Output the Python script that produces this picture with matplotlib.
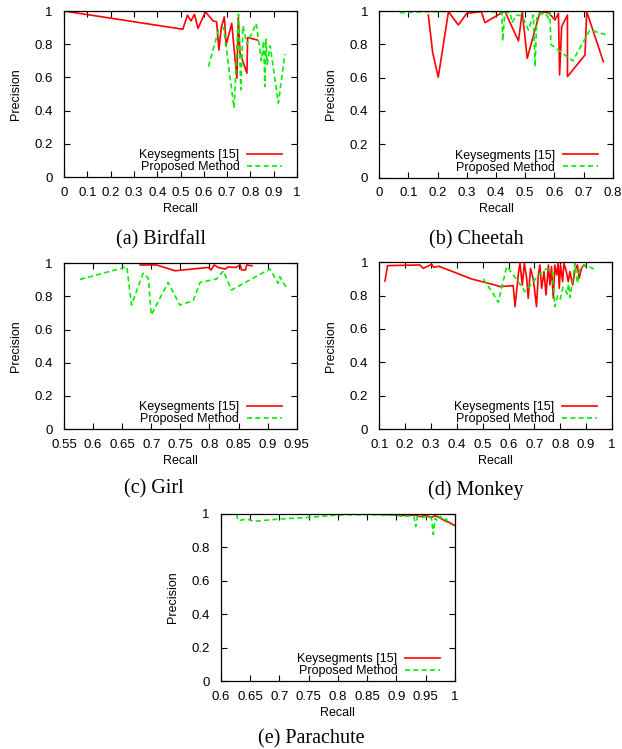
import matplotlib
matplotlib.use("Agg")
import matplotlib.pyplot as plt

plt.rcParams['font.family'] = ['Liberation Sans', 'DejaVu Sans']

LABEL_KEY = "Keysegments [15]"
LABEL_OURS = "Proposed Method"

# (a) Birdfall
birdfall_key_recall = [0.0, 0.51, 0.53, 0.545, 0.56, 0.575, 0.607, 0.64, 0.655, 0.665, 0.675,
                       0.688, 0.696, 0.72, 0.742, 0.748, 0.755, 0.785, 0.788, 0.83]
birdfall_key_prec = [1.0, 0.89, 0.975, 0.94, 0.98, 0.895, 0.995, 0.94, 0.935, 0.765, 0.90,
                     0.965, 0.795, 0.925, 0.595, 0.96, 0.75, 0.625, 0.84, 0.825]
birdfall_ours_recall = [0.62, 0.663, 0.685, 0.73, 0.749, 0.759, 0.768, 0.785, 0.825, 0.847,
                        0.857, 0.862, 0.867, 0.872, 0.885, 0.92, 0.948]
birdfall_ours_prec = [0.665, 0.885, 0.90, 0.415, 0.98, 0.525, 0.91, 0.80, 0.925, 0.70,
                      0.82, 0.545, 0.83, 0.68, 0.79, 0.445, 0.74]

# (b) Cheetah
cheetah_key_recall = [0.168, 0.183, 0.202, 0.237, 0.271, 0.30, 0.35, 0.362, 0.397, 0.43, 0.477,
                      0.49, 0.507, 0.551, 0.58, 0.602, 0.614, 0.618, 0.625, 0.645, 0.645,
                      0.705, 0.711, 0.768]
cheetah_key_prec = [0.976, 0.75, 0.602, 0.996, 0.916, 0.986, 0.996, 0.93, 0.966, 1.0, 0.82,
                    0.996, 0.716, 0.996, 0.99, 0.946, 0.986, 0.616, 0.906, 0.976, 0.606,
                    0.736, 0.996, 0.696]
cheetah_ours_recall = [0.07, 0.15, 0.25, 0.35, 0.40, 0.42, 0.423, 0.43, 0.448, 0.455, 0.471,
                       0.49, 0.511, 0.528, 0.534, 0.54, 0.568, 0.58, 0.585, 0.588, 0.663,
                       0.722, 0.78]
cheetah_ours_prec = [0.99, 0.995, 0.998, 0.998, 0.995, 0.99, 0.82, 0.985, 0.996, 0.93, 0.976,
                     0.97, 0.886, 0.976, 0.666, 0.97, 0.99, 0.956, 0.99, 0.80, 0.70,
                     0.886, 0.856]

# (c) Girl
girl_key_recall = [0.681, 0.709, 0.741, 0.798, 0.803, 0.808, 0.815, 0.827, 0.832, 0.845,
                   0.853, 0.855, 0.862, 0.864, 0.873]
girl_key_prec = [0.99, 0.99, 0.955, 0.975, 0.96, 0.99, 0.975, 0.965, 0.978, 0.975,
                 0.99, 0.96, 0.96, 0.99, 0.985]
girl_ours_recall = [0.5775, 0.652, 0.658, 0.666, 0.686, 0.695, 0.70, 0.729, 0.749, 0.772,
                    0.784, 0.812, 0.824, 0.838, 0.904, 0.918, 0.921, 0.932]
girl_ours_prec = [0.903, 0.973, 0.98, 0.748, 0.94, 0.91, 0.688, 0.885, 0.748, 0.774,
                  0.885, 0.905, 0.954, 0.839, 0.966, 0.879, 0.919, 0.855]

# (d) Monkey
monkey_key_recall = [0.122, 0.132, 0.257, 0.27, 0.303, 0.31, 0.331, 0.457, 0.547, 0.567,
                     0.618, 0.625, 0.638, 0.644, 0.653, 0.661, 0.67, 0.676, 0.685, 0.696,
                     0.708, 0.715, 0.721, 0.728, 0.737, 0.745, 0.754, 0.76, 0.766, 0.773,
                     0.779, 0.786, 0.792, 0.796, 0.801, 0.809, 0.814, 0.822, 0.831, 0.837,
                     0.848, 0.857, 0.866, 0.873, 0.882, 0.891, 0.90]
monkey_key_prec = [0.888, 0.98, 0.984, 0.964, 0.988, 0.97, 0.976, 0.90, 0.864, 0.854,
                   0.86, 0.734, 0.934, 0.994, 0.864, 0.994, 0.904, 0.784, 0.964, 0.894,
                   0.734, 0.924, 0.984, 0.844, 0.944, 0.804, 0.984, 0.864, 0.974, 0.784,
                   0.984, 0.924, 0.994, 0.844, 0.984, 0.884, 0.994, 0.954, 0.884, 0.944,
                   0.864, 0.954, 0.984, 0.904, 0.964, 0.984, 0.974]
monkey_ours_recall = [0.502, 0.541, 0.56, 0.593, 0.63, 0.663, 0.696, 0.72, 0.745, 0.77,
                      0.779, 0.79, 0.80, 0.81, 0.818, 0.827, 0.832, 0.838, 0.857, 0.866,
                      0.876, 0.895, 0.94]
monkey_ours_prec = [0.90, 0.81, 0.76, 0.975, 0.90, 0.824, 0.884, 0.93, 0.96, 0.94,
                    0.734, 0.80, 0.78, 0.85, 0.84, 0.81, 0.87, 0.79, 0.994, 0.874,
                    0.964, 0.984, 0.954]

# (e) Parachute
parachute_key_recall = [0.75, 0.85, 0.9, 0.92, 0.93, 0.94, 0.95, 0.96, 0.965, 0.97, 0.975,
                        0.98, 0.985, 0.99, 0.995, 1.0]
parachute_key_prec = [1.0, 1.0, 0.995, 0.99, 0.995, 0.985, 0.99, 0.98, 0.99, 0.985, 0.975,
                      0.965, 0.955, 0.95, 0.94, 0.93]
parachute_ours_recall = [0.627, 0.63, 0.645, 0.656, 0.70, 0.752, 0.80, 0.85, 0.9, 0.91, 0.92,
                         0.93, 0.933, 0.936, 0.945, 0.955, 0.96, 0.963, 0.966, 0.97, 0.975,
                         0.98, 0.985, 0.99, 0.994]
parachute_ours_prec = [1.0, 0.96, 0.97, 0.956, 0.97, 0.98, 0.995, 0.997, 0.993, 0.985, 0.99,
                       0.985, 0.925, 0.985, 0.98, 0.99, 0.97, 0.878, 0.975, 0.96, 0.985,
                       0.96, 0.97, 0.945, 0.935]

panels = [
    dict(key=(birdfall_key_recall, birdfall_key_prec), ours=(birdfall_ours_recall, birdfall_ours_prec),
         xlim=(0, 1), xticks=[0, 0.1, 0.2, 0.3, 0.4, 0.5, 0.6, 0.7, 0.8, 0.9, 1],
         rect=[64, 11, 297, 177], caption="(a) Birdfall", cap=(161.5, 240)),
    dict(key=(cheetah_key_recall, cheetah_key_prec), ours=(cheetah_ours_recall, cheetah_ours_prec),
         xlim=(0, 0.8), xticks=[0, 0.1, 0.2, 0.3, 0.4, 0.5, 0.6, 0.7, 0.8],
         rect=[379.3, 11, 612.7, 177.5], caption="(b) Cheetah", cap=(476, 240)),
    dict(key=(girl_key_recall, girl_key_prec), ours=(girl_ours_recall, girl_ours_prec),
         xlim=(0.55, 0.95), xticks=[0.55, 0.6, 0.65, 0.7, 0.75, 0.8, 0.85, 0.9, 0.95],
         rect=[64, 263.3, 296.7, 429], caption="(c) Girl", cap=(154, 489)),
    dict(key=(monkey_key_recall, monkey_key_prec), ours=(monkey_ours_recall, monkey_ours_prec),
         xlim=(0.1, 1), xticks=[0.1, 0.2, 0.3, 0.4, 0.5, 0.6, 0.7, 0.8, 0.9, 1],
         rect=[379.3, 262.3, 612, 429], caption="(d) Monkey", cap=(476, 490)),
    dict(key=(parachute_key_recall, parachute_key_prec), ours=(parachute_ours_recall, parachute_ours_prec),
         xlim=(0.6, 1), xticks=[0.6, 0.65, 0.7, 0.75, 0.8, 0.85, 0.9, 0.95, 1],
         rect=[220.7, 514, 455, 681], caption="(e) Parachute", cap=(311.5, 739)),
]

W, H = 622, 749
fig = plt.figure(figsize=(W / 100, H / 100), dpi=100)


def fmt(v):
    return ("%.2f" % v).rstrip("0").rstrip(".")


for p in panels:
    x0, y0, x1, y1 = p["rect"]
    ax_w, ax_h = x1 - x0, y1 - y0
    ax = fig.add_axes([x0 / W, 1 - y1 / H, ax_w / W, ax_h / H])
    ax.plot(*p["key"], color="#ff0000", lw=1.2, label=LABEL_KEY)
    ax.plot(*p["ours"], color="#00ee00", lw=1.2, ls=(0, (3, 2)), label=LABEL_OURS)
    ax.set_xlim(*p["xlim"])
    ax.set_ylim(0, 1)
    ax.set_xticks(p["xticks"])
    ax.set_xticklabels([fmt(v) for v in p["xticks"]])
    yt = [0, 0.2, 0.4, 0.6, 0.8, 1]
    ax.set_yticks(yt)
    ax.set_yticklabels([fmt(v) for v in yt])
    ax.tick_params(direction="in", top=True, right=True, length=4, width=0.8,
                   labelsize=9.5, colors="black")
    ax.tick_params(axis="x", pad=7)
    ax.tick_params(axis="y", pad=8)
    for s in ax.spines.values():
        s.set_linewidth(0.9)
    ax.set_xlabel("Recall", fontsize=9, labelpad=3)
    ax.set_ylabel("Precision", fontsize=9, labelpad=9)
    ax.legend(loc="lower right", markerfirst=False, frameon=False, fontsize=9,
              handlelength=2.8, handletextpad=0.6, labelspacing=0.0,
              borderaxespad=0.0, borderpad=0.0,
              bbox_to_anchor=(1 - 15 / ax_w, 4 / ax_h))
    cx, cy = p["cap"]
    fig.text(cx / W, 1 - cy / H, p["caption"], family=["Liberation Serif", "DejaVu Serif"],
             fontsize=14.5, ha="center", va="center")

fig.savefig("out.png", dpi=100)
